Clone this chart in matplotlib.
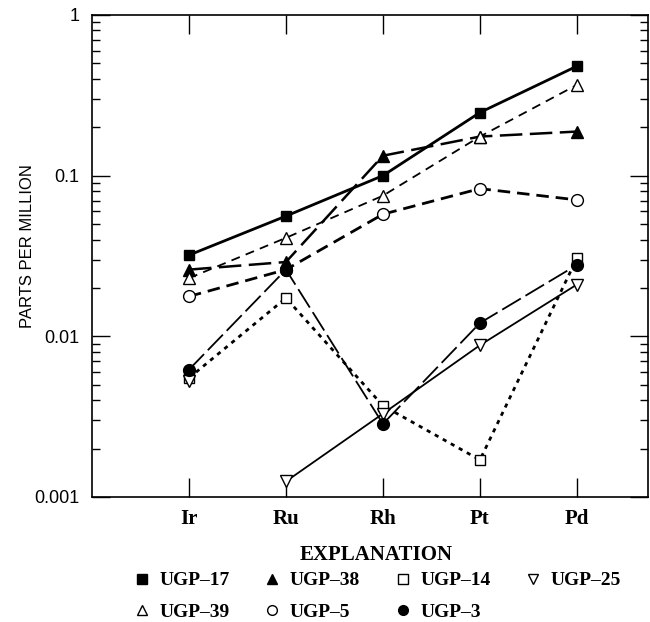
import numpy as np
import matplotlib.pyplot as plt

elements = ["Ir", "Ru", "Rh", "Pt", "Pd"]
x = np.arange(1, 6)

ugp17 = [0.032, 0.056, 0.100, 0.247, 0.48]
ugp38 = [0.026, 0.029, 0.133, 0.175, 0.188]
ugp14 = [0.0055, 0.0173, 0.0037, 0.0017, 0.0306]
ugp25 = [0.0053, 0.00125, 0.0033, 0.0088, 0.021]
ugp39 = [0.023, 0.041, 0.075, 0.175, 0.367]
ugp5 = [0.0177, 0.026, 0.0575, 0.083, 0.0706]
ugp3 = [0.0062, 0.026, 0.00285, 0.0121, 0.0278]

plt.rcParams['font.family'] = ['Liberation Sans', 'DejaVu Sans']
fig = plt.figure(figsize=(6.5, 6.22), dpi=100)
ax = fig.add_axes([0.1415, 0.201, 0.855, 0.775])

k = dict(color='black', markeredgecolor='black', clip_on=False, zorder=3)

h17, = ax.plot(x, ugp17, '-', marker='s', ms=7.5, lw=2.0, label='UGP–17', **k)
h38, = ax.plot(x, ugp38, marker='^', ms=8.5, lw=1.8, dashes=(9, 3), label='UGP–38', **k)
h14, = ax.plot(x, ugp14, marker='s', ms=7.5, lw=2.0, dashes=(1.5, 1.8),
               markerfacecolor='white', label='UGP–14', **k)
# UGP-25: the Ir point stands alone, the line starts at Ru
ax.plot(x[1:], ugp25[1:], '-', lw=1.3, color='black', zorder=2)
h25, = ax.plot(x, ugp25, ls='none', marker='v', ms=8.5, markerfacecolor='white',
               label='UGP–25', **k)
h39, = ax.plot(x, ugp39, marker='^', ms=8.5, lw=1.3, dashes=(5, 3.5),
               markerfacecolor='white', label='UGP–39', **k)
h5, = ax.plot(x, ugp5, marker='o', ms=8.5, lw=2.0, dashes=(4.5, 2.5),
              markerfacecolor='white', label='UGP–5', **k)
h3, = ax.plot(x, ugp3, marker='o', ms=8.5, lw=1.3, dashes=(12, 3), label='UGP–3', **k)

ax.set_yscale('log')
ax.set_ylim(0.001, 1)
ax.set_xlim(0, 5.73)
ax.set_xticks(x)
ax.set_xticklabels(elements, family=['Liberation Serif'], fontweight='bold', fontsize=15)
ax.set_yticks([0.001, 0.01, 0.1, 1])
ax.set_yticklabels(['0.001', '0.01', '0.1', '1'], fontsize=13)
ax.tick_params(axis='x', which='both', direction='in', top=True, length=14, width=1, pad=9)
ax.tick_params(axis='x', which='minor', length=0)
ax.tick_params(axis='y', which='major', direction='in', right=True, length=13, width=1, pad=9)
ax.tick_params(axis='y', which='minor', direction='in', right=True, length=6, width=1)
ax.set_ylabel('PARTS PER MILLION', fontsize=12)
ax.yaxis.set_label_coords(-0.102, 0.52)
for s in ax.spines.values():
    s.set_linewidth(1.2)

handles = [h17, h39, h38, h5, h14, h3, h25]
leg_h = []
for h in handles:
    leg_h.append(plt.Line2D([], [], ls='none', marker=h.get_marker(), color='black',
                            markerfacecolor=h.get_markerfacecolor(), markeredgecolor='black',
                            markersize=7, label=h.get_label()))
leg = fig.legend(handles=leg_h, loc='upper left', bbox_to_anchor=(0.203, 0.124), ncol=4,
                 frameon=False, title='EXPLANATION',
                 prop={'family': 'Liberation Serif', 'weight': 'bold', 'size': 14},
                 handlelength=1.0, handletextpad=0.4, columnspacing=1.7, labelspacing=0.7,
                 borderpad=0.0, borderaxespad=0.0)
leg.get_title().set_fontproperties({'family': 'Liberation Serif', 'weight': 'bold', 'size': 15})
leg._legend_box.sep = 5

fig.savefig('out.png', dpi=100)
